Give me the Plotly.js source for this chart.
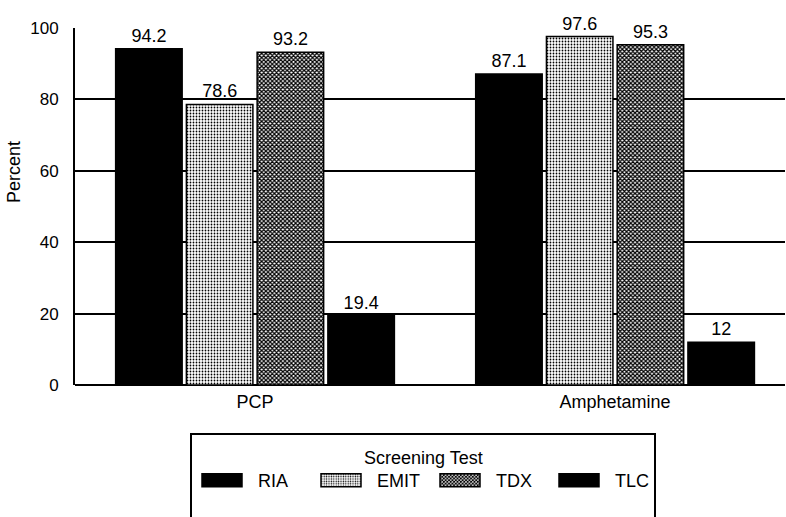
<!DOCTYPE html>
<html>
<head>
<meta charset="utf-8">
<script src="https://cdn.plot.ly/plotly-3.0.1.min.js"></script>
<style>html,body{margin:0;padding:0;background:#fff;}</style>
</head>
<body>
<div id="chart" style="width:786px;height:517px;"></div>
<script>
const categories = ["PCP", "Amphetamine"];
const seriesNames = ["RIA", "EMIT", "TDX", "TLC"];
const RIA = [94.2, 87.1];
const EMIT = [78.6, 97.6];
const TDX = [93.2, 95.3];
const TLC = [19.4, 12];
const yTicks = [0, 20, 40, 60, 80, 100];
const legendTitle = "Screening Test";
const yTitle = "Percent";

const font = "Liberation Sans, Arial, Helvetica, sans-serif";
const values = [RIA, EMIT, TDX, TLC];
const patterns = [
  {shape: ""},
  {shape: ".", fgcolor: "#000", bgcolor: "#fff", size: 3, solidity: 0.28},
  {shape: "x", fgcolor: "#000", bgcolor: "#fff", size: 3, solidity: 0.65},
  {shape: ""}
];
const colors = ["#000", "#fff", "#fff", "#000"];

const traces = seriesNames.map((name, i) => ({
  type: "bar",
  name: name,
  x: categories,
  y: values[i],
  text: values[i].map(String),
  textposition: "outside",
  cliponaxis: false,
  textfont: {family: font, size: 18, color: "#000"},
  marker: {
    color: colors[i],
    pattern: patterns[i],
    line: {color: "#000", width: 1.5}
  },
  hoverinfo: "x+y+name"
}));

const layout = {
  width: 786,
  height: 517,
  margin: {l: 75, r: 1, t: 28, b: 132},
  paper_bgcolor: "#fff",
  plot_bgcolor: "#fff",
  barmode: "group",
  bargap: 0.214,
  bargroupgap: 0.06,
  font: {family: font, size: 18, color: "#000"},
  showlegend: true,
  xaxis: {
    type: "category",
    range: [-0.5, 1.472],
    showgrid: false,
    showline: false,
    ticks: "",
    ticklabelstandoff: 4,
    tickfont: {family: font, size: 18, color: "#000"}
  },
  yaxis: {
    range: [0, 100],
    tickvals: yTicks,
    ticktext: yTicks.map(String),
    showgrid: true,
    gridcolor: "#000",
    gridwidth: 2,
    zeroline: true,
    zerolinecolor: "#000",
    zerolinewidth: 2,
    showline: true,
    linecolor: "#000",
    linewidth: 2,
    ticks: "",
    ticklabelstandoff: 11,
    tickfont: {family: font, size: 17, color: "#000"}
  },
  shapes: [{
    type: "rect", xref: "paper", yref: "paper",
    x0: (191 - 75) / 710, x1: (655 - 75) / 710,
    y0: (385 - 434) / 357, y1: (385 - 522) / 357,
    line: {color: "#000", width: 2}, fillcolor: "rgba(0,0,0,0)"
  }],
  annotations: [{
    text: legendTitle,
    xref: "paper", yref: "paper",
    x: (423 - 75) / 710, y: (385 - 458) / 357,
    xanchor: "center", yanchor: "middle",
    showarrow: false,
    font: {family: font, size: 18, color: "#000"}
  }, {
    text: yTitle,
    xref: "paper", yref: "paper",
    x: (14 - 75) / 710, y: (385 - 172) / 357,
    xanchor: "center", yanchor: "middle",
    textangle: -90,
    showarrow: false,
    font: {family: font, size: 18, color: "#000"}
  }],
  legend: {
    orientation: "h",
    xref: "container",
    yref: "container",
    x: 198 / 786,
    xanchor: "left",
    y: 1 - 462 / 517,
    yanchor: "top",
    borderwidth: 0,
    bgcolor: "rgba(0,0,0,0)",
    itemwidth: 50,
    entrywidth: 54,
    entrywidthmode: "pixels",
    font: {family: font, size: 18, color: "#000"}
  }
};

Plotly.newPlot("chart", traces, layout, {displayModeBar: false, staticPlot: true}).then(gd => {
  gd.querySelectorAll(".legend .legendpoints path").forEach(p => {
    p.setAttribute("d", "M14,6.5H-26V-6.5H14Z");
  });
});
</script>
</body>
</html>
